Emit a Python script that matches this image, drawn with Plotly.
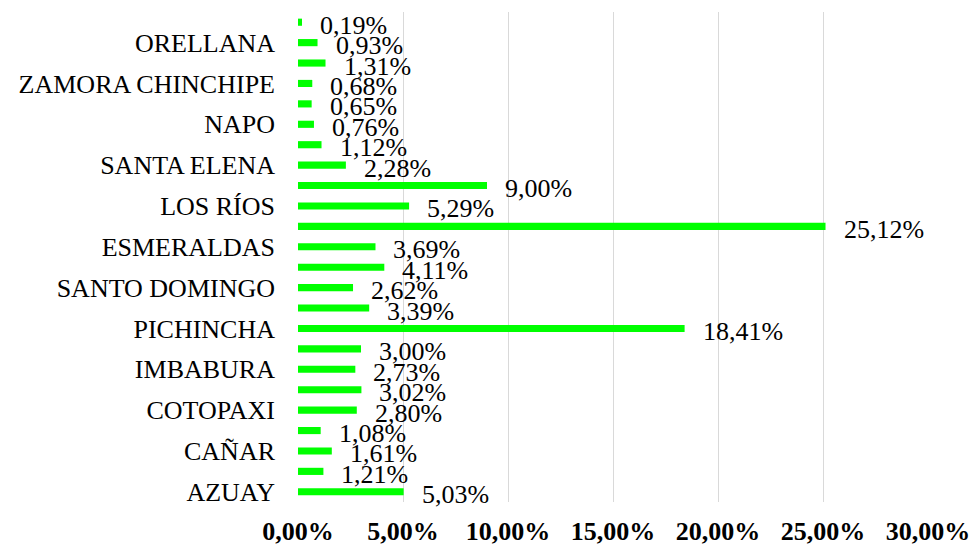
import plotly.graph_objects as go

provinces = [
    "AZUAY", "BOLÍVAR", "CAÑAR", "CARCHI", "COTOPAXI", "CHIMBORAZO",
    "IMBABURA", "LOJA", "PICHINCHA", "TUNGURAHUA", "SANTO DOMINGO", "EL ORO",
    "ESMERALDAS", "GUAYAS", "LOS RÍOS", "MANABÍ", "SANTA ELENA", "MORONA SANTIAGO",
    "NAPO", "PASTAZA", "ZAMORA CHINCHIPE", "SUCUMBÍOS", "ORELLANA", "GALÁPAGOS",
]
shares = [
    5.03, 1.21, 1.61, 1.08, 2.80, 3.02,
    2.73, 3.00, 18.41, 3.39, 2.62, 4.11,
    3.69, 25.12, 5.29, 9.00, 2.28, 1.12,
    0.76, 0.65, 0.68, 1.31, 0.93, 0.19,
]
shown_labels = provinces[0::2]
x_ticks = [0, 5, 10, 15, 20, 25, 30]
x_ticktext = [f"{t:.2f}%".replace(".", ",") for t in x_ticks]

FONT = "Liberation Serif"

fig = go.Figure()
fig.add_trace(go.Bar(
    x=shares, y=provinces, orientation="h",
    marker=dict(color="#00ff00", line=dict(width=0)),
    width=0.35, hoverinfo="x+y",
))

for p, v in zip(provinces, shares):
    fig.add_annotation(
        x=v, y=p, xref="x", yref="y",
        text=f"{v:.2f}%".replace(".", ","),
        showarrow=False, xanchor="left", yanchor="middle",
        xshift=16, yshift=-3,
        font=dict(family=FONT, size=26, color="#000000"),
    )

fig.update_layout(
    width=971, height=545,
    margin=dict(l=298, r=43, t=12, b=43),
    paper_bgcolor="white", plot_bgcolor="white",
    showlegend=False,
    font=dict(family=FONT, color="#000000"),
)
fig.update_xaxes(
    range=[0, 30], tickvals=x_ticks, ticktext=x_ticktext,
    showgrid=True, gridcolor="#d9d9d9", gridwidth=1,
    zeroline=False, showline=False, ticks="",
    tickfont=dict(family=FONT, size=26, color="#000000", weight="bold"),
    ticklabelstandoff=11, automargin=False,
)
fig.update_yaxes(
    categoryorder="array", categoryarray=provinces,
    range=[-0.5, len(provinces) - 0.5],
    tickvals=shown_labels, ticktext=shown_labels,
    showgrid=False, zeroline=False, showline=False, ticks="",
    tickfont=dict(family=FONT, size=26, color="#000000"),
    ticklabelstandoff=22, automargin=False,
)

fig.write_html(
    "out.html",
    config={"displayModeBar": False},
    post_script="document.body.style.margin='0';document.body.style.overflow='hidden';",
)
